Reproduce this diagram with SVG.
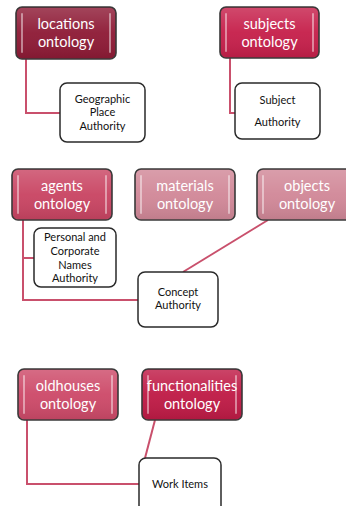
<svg xmlns="http://www.w3.org/2000/svg" width="346" height="506" viewBox="0 0 346 506">
<defs>
<linearGradient id="gloss" x1="0" y1="0" x2="0" y2="1">
<stop offset="0" stop-color="#fff" stop-opacity="0.18"/>
<stop offset="0.5" stop-color="#fff" stop-opacity="0.04"/>
<stop offset="1" stop-color="#000" stop-opacity="0.08"/>
</linearGradient>
<style>
.ont{stroke:#3a3a3a;stroke-width:1.6}
.hl{fill:none;stroke:#fff;stroke-opacity:0.45;stroke-width:2;stroke-linecap:round}
.gl{fill:url(#gloss)}
.ot{font-family:Lato,"Open Sans",sans-serif;font-size:14.5px;fill:#fff;text-anchor:middle}
.auth{fill:#fff;stroke:#2a2a2a;stroke-width:1.5}
.at{font-family:Lato,"Open Sans",sans-serif;font-size:11px;fill:#111;text-anchor:middle}
.con{fill:none;stroke:#c9506c;stroke-width:2}
</style>
</defs>
<g id="connectors">
<polyline class="con" points="26,59 26,113 60,113"/>
<polyline class="con" points="230,58 230,113 235,113"/>
<polyline class="con" points="23,220 23,300 138,300"/>
<line class="con" x1="23" y1="258" x2="34" y2="258"/>
<line class="con" x1="268" y1="220" x2="183" y2="272"/>
<polyline class="con" points="27,420 27,484 139,484"/>
<line class="con" x1="155" y1="420" x2="145" y2="458"/>
</g>
<g id="locations">
<rect class="ont" x="16" y="7" width="100" height="52" rx="6" fill="#8e1b36"/>
<rect class="gl" x="17" y="8" width="98" height="50" rx="5"/>
<line class="hl" x1="22" y1="14" x2="22" y2="52"/><line class="hl" x1="110" y1="14" x2="110" y2="52"/>
<text class="ot" x="66" y="29">locations</text><text class="ot" x="66" y="47">ontology</text>
</g>
<g id="geographic">
<rect class="auth" x="60" y="83" width="85" height="59" rx="7"/>
<text class="at" x="102.5" y="103">Geographic</text><text class="at" x="102.5" y="116">Place</text><text class="at" x="102.5" y="130">Authority</text>
</g>
<g id="subjects">
<rect class="ont" x="220" y="7" width="99" height="51" rx="6" fill="#c6204b"/>
<rect class="gl" x="221" y="8" width="97" height="49" rx="5"/>
<line class="hl" x1="226" y1="14" x2="226" y2="51"/><line class="hl" x1="313" y1="14" x2="313" y2="51"/>
<text class="ot" x="269.5" y="29">subjects</text><text class="ot" x="269.5" y="47">ontology</text>
</g>
<g id="subject-authority">
<rect class="auth" x="235" y="83" width="85" height="56" rx="7"/>
<text class="at" x="277.5" y="104">Subject</text><text class="at" x="277.5" y="126">Authority</text>
</g>
<g id="agents">
<rect class="ont" x="12" y="169" width="100" height="51" rx="6" fill="#c94563"/>
<rect class="gl" x="13" y="170" width="98" height="49" rx="5"/>
<line class="hl" x1="18" y1="176" x2="18" y2="213"/><line class="hl" x1="106" y1="176" x2="106" y2="213"/>
<text class="ot" x="62" y="191">agents</text><text class="ot" x="62" y="209">ontology</text>
</g>
<g id="materials">
<rect class="ont" x="135" y="169" width="100" height="51" rx="6" fill="#d18898"/>
<rect class="gl" x="136" y="170" width="98" height="49" rx="5"/>
<line class="hl" x1="141" y1="176" x2="141" y2="213"/><line class="hl" x1="229" y1="176" x2="229" y2="213"/>
<text class="ot" x="185" y="191">materials</text><text class="ot" x="185" y="209">ontology</text>
</g>
<g id="objects">
<rect class="ont" x="257" y="169" width="100" height="51" rx="6" fill="#d18898"/>
<rect class="gl" x="258" y="170" width="98" height="49" rx="5"/>
<line class="hl" x1="263" y1="176" x2="263" y2="213"/>
<text class="ot" x="307" y="191">objects</text><text class="ot" x="307" y="209">ontology</text>
</g>
<g id="personal">
<rect class="auth" x="34" y="228" width="82" height="59" rx="7"/>
<text class="at" x="75" y="241">Personal and</text><text class="at" x="75" y="255">Corporate</text><text class="at" x="75" y="269">Names</text><text class="at" x="75" y="282">Authority</text>
</g>
<g id="concept">
<rect class="auth" x="138" y="272" width="80" height="55" rx="7"/>
<text class="at" x="178" y="296">Concept</text><text class="at" x="178" y="309">Authority</text>
</g>
<g id="oldhouses">
<rect class="ont" x="18" y="369" width="100" height="51" rx="6" fill="#cd4a69"/>
<rect class="gl" x="19" y="370" width="98" height="49" rx="5"/>
<line class="hl" x1="24" y1="376" x2="24" y2="413"/><line class="hl" x1="112" y1="376" x2="112" y2="413"/>
<text class="ot" x="68" y="391">oldhouses</text><text class="ot" x="68" y="409">ontology</text>
</g>
<g id="functionalities">
<rect class="ont" x="142" y="369" width="100" height="51" rx="6" fill="#bf1b46"/>
<rect class="gl" x="143" y="370" width="98" height="49" rx="5"/>
<line class="hl" x1="148" y1="376" x2="148" y2="413"/><line class="hl" x1="236" y1="376" x2="236" y2="413"/>
<text class="ot" x="192" y="391">functionalities</text><text class="ot" x="192" y="409">ontology</text>
</g>
<g id="work-items">
<rect class="auth" x="139" y="458" width="82" height="60" rx="7"/>
<text class="at" x="180" y="488">Work Items</text>
</g>
</svg>
